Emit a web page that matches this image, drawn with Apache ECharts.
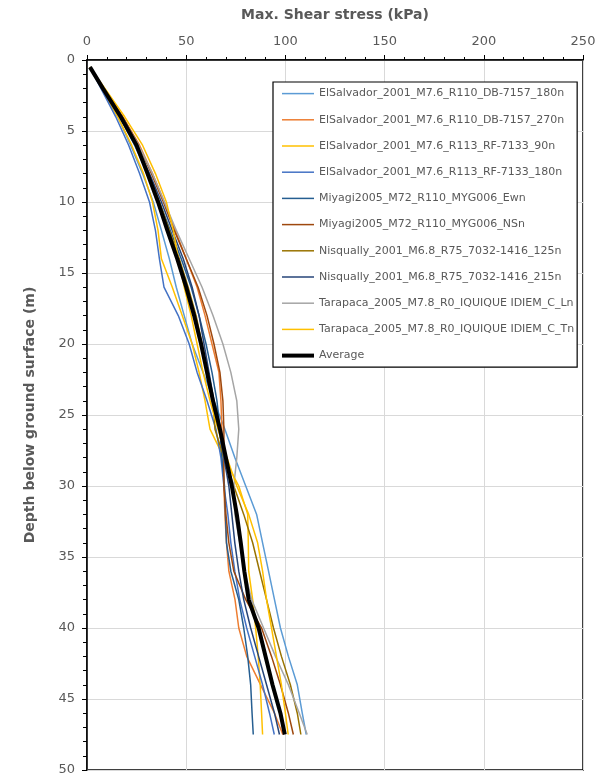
<!DOCTYPE html>
<html>
<head>
<meta charset="utf-8">
<script src="https://cdn.jsdelivr.net/npm/echarts@6/dist/echarts.min.js"></script>
<style>
  html, body { margin: 0; padding: 0; background: #fff; }
  #chart { width: 614px; height: 778px; }
</style>
</head>
<body>
<div id="chart"></div>
<script>
// Depth of each computed point below ground surface (m)
const depths = [0.5, 2, 4, 6, 8, 10, 12, 14, 16, 18, 20, 22, 24, 26, 28, 30, 32, 34, 36, 38, 40, 42, 44, 46, 47.5];

// Max. shear stress profiles (kPa), one value per depth
const elSalvadorDB180 = [1.5, 7.5, 15.5, 22, 28, 33.4, 37.5, 41.5, 45, 49, 53, 58.5, 64, 69.5, 74.5, 80, 85.5, 88.5, 91.5, 94.5, 97.5, 101.5, 106, 108.5, 110.5];
const elSalvadorDB270 = [1.5, 8.5, 18, 26.5, 33, 39, 44.5, 50, 55.5, 59.5, 63, 66.5, 67.5, 68, 68.5, 69, 69.5, 70.3, 71.5, 74.6, 76.5, 80.5, 87.5, 94.5, 98.7];
const elSalvadorRF90 = [1.5, 7.5, 15.5, 22.5, 28.5, 33, 35.8, 37.5, 43, 48, 53, 56.5, 59.5, 62, 69, 76.5, 81, 81.3, 81.5, 83.5, 85, 86.3, 87.3, 88, 88.5];
const elSalvadorRF180 = [1.5, 7, 14.5, 21, 26.5, 31.5, 34.5, 36.5, 38.8, 46, 51.5, 55.5, 60.5, 65, 67.5, 69, 71, 72.5, 74.5, 77, 80.5, 84.5, 88.5, 92, 94.4];
const miyagiEW = [1.5, 8, 16.5, 24, 30.5, 36.5, 42, 47.5, 52.5, 56.5, 60, 63, 65.5, 67, 68, 69.3, 69.8, 70.3, 72.5, 76.5, 79, 81, 82.5, 83.2, 83.8];
const miyagiNS = [1.5, 8.5, 18, 26, 32.5, 38.5, 44, 50, 56, 60.5, 64, 67, 68.5, 69, 69, 69, 70, 71.5, 74, 80, 88, 93, 97.5, 101.5, 104];
const nisqually125 = [1.5, 8, 17, 25, 31, 36.5, 41.5, 46.5, 51, 55, 58, 60.5, 63.5, 64.5, 69, 74, 79, 83.5, 87, 90.5, 94, 98, 102.5, 106, 107.8];
const nisqually215 = [1.5, 8, 17, 25, 31.5, 37.5, 43, 48.5, 53, 56.5, 59, 61.5, 64, 66.5, 69, 71.5, 73, 74.5, 76.5, 79, 82.5, 86.5, 90.5, 94.5, 97];
const tarapacaL = [1.5, 8.5, 17.5, 26, 33, 39, 45, 51.5, 58, 63.5, 68.5, 72.5, 75.5, 76.5, 75.5, 74, 74.5, 77, 79.5, 83, 89, 95, 101.5, 107, 111];
const tarapacaT = [1.5, 9, 19, 28, 34.5, 40, 43.5, 46, 49, 52.5, 55.5, 58.5, 62, 66, 70.5, 75.5, 81.5, 86, 88.5, 90.5, 93, 95.5, 98, 100, 101.4];
const average = [1.5, 8, 17, 25, 30.5, 35.8, 40.5, 45.5, 50, 54, 57.5, 60.5, 63.5, 67, 70, 73, 75.5, 77.5, 79.3, 81.5, 86.5, 90, 93.5, 97.5, 99.7];

const seriesNames = [
  'ElSalvador_2001_M7.6_R110_DB-7157_180n',
  'ElSalvador_2001_M7.6_R110_DB-7157_270n',
  'ElSalvador_2001_M7.6_R113_RF-7133_90n',
  'ElSalvador_2001_M7.6_R113_RF-7133_180n',
  'Miyagi2005_M72_R110_MYG006_Ewn',
  'Miyagi2005_M72_R110_MYG006_NSn',
  'Nisqually_2001_M6.8_R75_7032-1416_125n',
  'Nisqually_2001_M6.8_R75_7032-1416_215n',
  'Tarapaca_2005_M7.8_R0_IQUIQUE IDIEM_C_Ln',
  'Tarapaca_2005_M7.8_R0_IQUIQUE IDIEM_C_Tn',
  'Average'
];
const seriesValues = [
  elSalvadorDB180, elSalvadorDB270, elSalvadorRF90, elSalvadorRF180,
  miyagiEW, miyagiNS, nisqually125, nisqually215, tarapacaL, tarapacaT, average
];
const seriesColors = [
  '#5B9BD5', '#ED7D31', '#FFC000', '#4472C4', '#255E91',
  '#9E480E', '#997300', '#264478', '#A5A5A5', '#FFC000', '#000000'
];

const textGray = '#595959';
const fontFamily = 'DejaVu Sans, sans-serif';
const lineWidthOf = name => (name === 'Average' ? 4 : 1.5);

const series = seriesNames.map((name, i) => ({
  name: name,
  type: 'line',
  symbol: 'none',
  smooth: false,
  z: name === 'Average' ? 5 : 2,
  lineStyle: { color: seriesColors[i], width: lineWidthOf(name) },
  itemStyle: { color: seriesColors[i] },
  data: seriesValues[i].map((v, k) => [v, depths[k]])
}));

const legendData = seriesNames.map((name, i) => ({
  name: name,
  lineStyle: { color: seriesColors[i], width: lineWidthOf(name) }
}));

const chart = echarts.init(document.getElementById('chart'), null, { renderer: 'canvas' });
chart.setOption({
  animation: false,
  backgroundColor: '#fff',
  grid: {
    left: 87, right: 31, top: 60, bottom: 8,
    show: true, borderColor: '#000', borderWidth: 1.5
  },
  legend: {
    orient: 'vertical',
    left: 273, top: 82,
    padding: [6, 3, 6, 7],
    borderColor: '#000', borderWidth: 1.2,
    backgroundColor: '#fff',
    itemWidth: 32, itemHeight: 14, itemGap: 15,
    itemStyle: { opacity: 0 },
    textStyle: { color: textGray, fontSize: 11, fontFamily: fontFamily },
    data: legendData
  },
  xAxis: {
    type: 'value',
    position: 'top',
    min: 0, max: 250, interval: 50,
    name: 'Max. Shear stress (kPa)',
    nameLocation: 'middle',
    nameGap: 38,
    nameTextStyle: { color: textGray, fontSize: 14, fontWeight: 'bold', fontFamily: fontFamily },
    axisLine: { show: true, lineStyle: { color: '#000', width: 1.5 } },
    axisTick: { show: true, length: 5, lineStyle: { color: '#000', width: 1 } },
    minorTick: { show: true, splitNumber: 5, length: 3, lineStyle: { color: '#000', width: 1 } },
    axisLabel: { color: textGray, fontSize: 13, margin: 12, fontFamily: fontFamily },
    splitLine: { show: true, lineStyle: { color: '#D9D9D9', width: 1 } }
  },
  yAxis: {
    type: 'value',
    inverse: true,
    min: 0, max: 50, interval: 5,
    name: 'Depth below ground surface (m)',
    nameLocation: 'middle',
    nameGap: 50,
    nameTextStyle: { color: textGray, fontSize: 14, fontWeight: 'bold', fontFamily: fontFamily },
    axisLine: { show: true, lineStyle: { color: '#000', width: 1.5 } },
    axisTick: { show: true, length: 5, lineStyle: { color: '#000', width: 1 } },
    minorTick: { show: true, splitNumber: 5, length: 4, lineStyle: { color: '#000', width: 1 } },
    axisLabel: { color: textGray, fontSize: 13, margin: 12, fontFamily: fontFamily },
    splitLine: { show: true, lineStyle: { color: '#D9D9D9', width: 1 } }
  },
  series: series
});
</script>
</body>
</html>
